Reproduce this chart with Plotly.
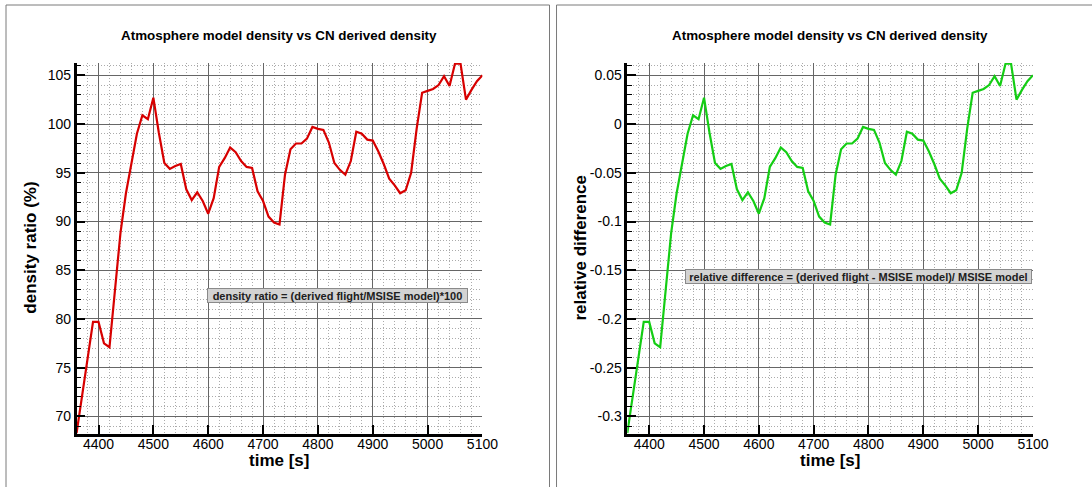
import plotly.graph_objects as go

time_s = list(range(4360, 5101, 10))

density_ratio = [
    68.3, 72.1, 75.9, 79.7, 79.7, 77.5, 77.1, 83.0, 88.8, 92.9,
    96.0, 99.0, 100.9, 100.5, 102.7, 99.1, 96.0, 95.4, 95.7, 95.9,
    93.3, 92.2, 93.0, 92.1, 90.8, 92.4, 95.6, 96.5, 97.6, 97.1,
    96.2, 95.6, 95.5, 93.1, 92.1, 90.5, 89.9, 89.7, 94.8, 97.4,
    98.0, 98.0, 98.5, 99.7, 99.5, 99.4, 98.1, 96.0, 95.3, 94.8,
    96.2, 99.2, 99.0, 98.4, 98.3, 97.2, 95.9, 94.4, 93.7, 92.9,
    93.2, 95.0, 99.5, 103.2, 103.4, 103.6, 104.0, 104.9, 103.9, 106.2,
    106.2, 102.5, 103.5, 104.4, 105.0,
]

relative_difference = [
    -0.317, -0.279, -0.241, -0.203, -0.203, -0.225, -0.229, -0.170, -0.112, -0.071,
    -0.040, -0.010, 0.009, 0.005, 0.027, -0.009, -0.040, -0.046, -0.043, -0.041,
    -0.067, -0.078, -0.070, -0.079, -0.092, -0.076, -0.044, -0.035, -0.024, -0.029,
    -0.038, -0.044, -0.045, -0.069, -0.079, -0.095, -0.101, -0.103, -0.052, -0.026,
    -0.020, -0.020, -0.015, -0.003, -0.005, -0.006, -0.019, -0.040, -0.047, -0.052,
    -0.038, -0.008, -0.010, -0.016, -0.017, -0.028, -0.041, -0.056, -0.063, -0.071,
    -0.068, -0.050, -0.005, 0.032, 0.034, 0.036, 0.040, 0.049, 0.039, 0.062,
    0.062, 0.025, 0.035, 0.044, 0.050,
]

x_ticks = [4400, 4500, 4600, 4700, 4800, 4900, 5000, 5100]
y1_ticks = [70, 75, 80, 85, 90, 95, 100, 105]
y2_ticks = [-0.3, -0.25, -0.2, -0.15, -0.1, -0.05, 0, 0.05]
y2_labels = ["-0.3", "-0.25", "-0.2", "-0.15", "-0.1", "-0.05", "0", "0.05"]

W, H = 1092, 487
XSCALE = 1075.0  # effective horizontal extent observed in the rendered page
FONT = "Liberation Sans, Arial, Helvetica, sans-serif"

def px(x):
    return x / XSCALE

def py(y):
    return (H - y) / H

fig = go.Figure()
fig.add_trace(go.Scatter(x=time_s, y=density_ratio, mode="lines",
                         line=dict(color="rgb(215,0,0)", width=2.2),
                         xaxis="x", yaxis="y", showlegend=False))
fig.add_trace(go.Scatter(x=time_s, y=relative_difference, mode="lines",
                         line=dict(color="rgb(20,205,20)", width=2.2),
                         xaxis="x2", yaxis="y2", showlegend=False))

ydom = [py(434), py(63)]

def xaxis(dom, anchor):
    return dict(
        domain=dom, anchor=anchor, range=[4360, 5100],
        tickvals=x_ticks, ticks="inside", ticklen=9, tickwidth=2, tickcolor="black",
        showline=True, linewidth=2.5, linecolor="black", mirror=False,
        showgrid=True, gridcolor="#666666", gridwidth=1,
        minor=dict(dtick=20, tick0=4360, showgrid=True, gridcolor="#ababab",
                   griddash="1px,2px", gridwidth=1, ticks=""),
        tickfont=dict(family=FONT, size=14, color="black"),
        ticklabelstandoff=-5,
        zeroline=False, fixedrange=True,
    )

def yaxis(anchor, rng, tv, tt, mdt, m0):
    return dict(
        domain=ydom, anchor=anchor, range=rng,
        tickvals=tv, ticktext=tt, ticks="inside", ticklen=9, tickwidth=2, tickcolor="black",
        showline=True, linewidth=2.5, linecolor="black", mirror=False,
        showgrid=True, gridcolor="#666666", gridwidth=1,
        minor=dict(dtick=mdt, tick0=m0, showgrid=True, gridcolor="#ababab",
                   griddash="1px,2px", gridwidth=1, ticks="inside", ticklen=5,
                   tickwidth=1, tickcolor="black"),
        tickfont=dict(family=FONT, size=14, color="black"),
        zeroline=False, fixedrange=True,
    )

fig.update_layout(
    width=W, height=H, autosize=False,
    margin=dict(l=0, r=0, t=0, b=0),
    paper_bgcolor="white", plot_bgcolor="white",
    xaxis=xaxis([px(76.5), px(482)], "y"),
    yaxis=yaxis("x", [68.2, 106.26], y1_ticks, [str(v) for v in y1_ticks], 1, 70),
    xaxis2=xaxis([px(626.7), px(1032)], "y2"),
    yaxis2=yaxis("x2", [-0.318, 0.0626], y2_ticks, y2_labels, 0.01, -0.3),
)

shapes = [
    dict(type="rect", xref="paper", yref="paper", x0=px(6), x1=px(549), y0=-0.05, y1=py(5),
         line=dict(color="#7a7a7a", width=1), layer="below"),
    dict(type="rect", xref="paper", yref="paper", x0=px(556), x1=1.1, y0=-0.05, y1=py(5),
         line=dict(color="#7a7a7a", width=1), layer="below"),
]
fig.update_layout(shapes=shapes)

title_txt = "Atmosphere model density vs CN derived density"
ann = []
for cx, ytitle, ytx in [
    (279, "density ratio (%)", 29.6),
    (829, "relative difference", 579),
]:
    ann.append(dict(text=title_txt, x=px(cx), y=py(35), xref="paper", yref="paper",
                    xanchor="center", yanchor="middle", showarrow=False,
                    font=dict(family=FONT, size=13.4, color="black", weight="bold")))
    ann.append(dict(text="time [s]", x=px(cx), y=py(460), xref="paper", yref="paper",
                    xanchor="center", yanchor="middle", showarrow=False,
                    font=dict(family=FONT, size=17, color="black", weight="bold")))
    ann.append(dict(text=ytitle, x=px(ytx), y=py(248), xref="paper", yref="paper",
                    xanchor="center", yanchor="middle", showarrow=False, textangle=-90,
                    font=dict(family=FONT, size=17, color="black", weight="bold")))
ann.append(dict(text="density ratio = (derived flight/MSISE model)*100",
                x=px(337.5), y=py(295.5), xref="paper", yref="paper",
                xanchor="center", yanchor="middle", showarrow=False,
                width=259, height=13, bgcolor="#d3d3d3", bordercolor="#8a8a8a",
                borderwidth=1, borderpad=0,
                font=dict(family=FONT, size=11, color="#202020", weight="bold")))
ann.append(dict(text="relative difference = (derived flight - MSISE model)/ MSISE model",
                x=px(858), y=py(276.5), xref="paper", yref="paper",
                xanchor="center", yanchor="middle", showarrow=False,
                width=345, height=13, bgcolor="#d3d3d3", bordercolor="#8a8a8a",
                borderwidth=1, borderpad=0,
                font=dict(family=FONT, size=11, color="#202020", weight="bold")))
fig.update_layout(annotations=ann)

fig.write_html("out.html")
